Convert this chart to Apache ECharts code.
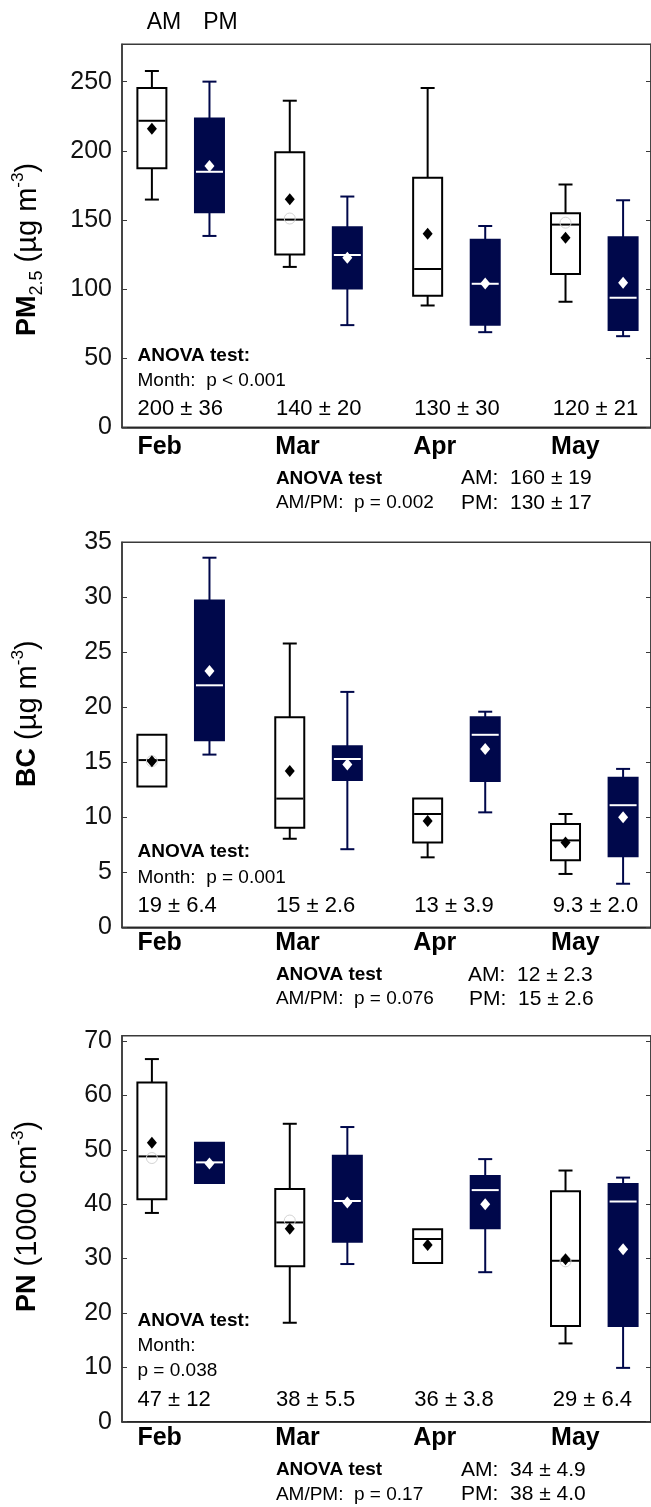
<!DOCTYPE html>
<html>
<head>
<meta charset="utf-8">
<title>PM2.5, BC and PN, AM / PM by month</title>
<script src="https://cdn.jsdelivr.net/npm/echarts@6/dist/echarts.min.js"></script>
<style>
  html, body { margin: 0; padding: 0; background: #fff; }
  #chart { width: 651px; height: 1507px; }
</style>
</head>
<body>
<div id="chart"></div>
<script>
// months on the x axis
var months = ["Feb", "Mar", "Apr", "May"];

// box values: [lower whisker, Q1, median, Q3, upper whisker]
var pm25AM = [[164.7, 187.4, 221.7, 245.4, 257.7], [116, 124.9, 150.2, 199, 236.2], [88.1, 95.1, 114.5, 180.4, 245.4], [90.8, 110.9, 146.6, 154.8, 175.6]];
var pm25PM = [[138.4, 155.5, 184.8, 223.4, 250], [73.9, 100.4, 124.6, 144.6, 166.9], [68.8, 74.1, 103.8, 135.7, 145.6], [65.9, 70.3, 93.7, 137.4, 164.2]];
var pm25AMMean = [216, 165, 139.9, 137];
var pm25PMMean = [189, 122.7, 104, 104.6];
var pm25AMCircle = [null, 151, null, 148];

var bcAM = [[12.8, 12.8, 15.2, 17.5, 17.5], [8.05, 9.05, 11.7, 19.1, 25.8], [6.36, 7.7, 10.3, 11.7, 11.7], [4.85, 6.1, 7.9, 9.4, 10.3]];
var bcPM = [[15.7, 17.0, 22.0, 29.7, 33.6], [7.1, 13.4, 15.3, 16.45, 21.4], [10.45, 13.3, 17.5, 19.1, 19.6], [3.96, 6.45, 11.1, 13.6, 14.4]];
var bcAMMean = [15.1, 14.2, 9.66, 7.7];
var bcPMMean = [23.3, 14.8, 16.2, 10.0];
var bcAMCircle = [15.1, null, null, null];

var pnAM = [[38.4, 40.9, 48.8, 62.4, 66.7], [18.2, 28.6, 36.65, 42.8, 54.8], [29.2, 29.2, 33.6, 35.4, 35.4], [14.4, 17.6, 29.6, 42.4, 46.2]];
var pnPM = [[43.9, 43.9, 47.7, 51.3, 51.3], [29.0, 33.1, 40.6, 48.9, 54.2], [27.5, 35.6, 42.6, 45.2, 48.3], [9.9, 17.6, 40.5, 43.7, 44.9]];
var pnAMMean = [51.3, 35.5, 32.5, 29.9];
var pnPMMean = [47.5, 40.3, 40.0, 31.7];
var pnAMCircle = [48.5, 37, null, 29.5];

// y axis ticks
var pm25Ticks = { max: 277, interval: 50 };
var bcTicks = { max: 35, interval: 5 };
var pnTicks = { max: 71, interval: 10 };

// month means +- sd and test results
var pm25Stats = ["200 ± 36", "140 ± 20", "130 ± 30", "120 ± 21"];
var bcStats = ["19 ± 6.4", "15 ± 2.6", "13 ± 3.9", "9.3 ± 2.0"];
var pnStats = ["47 ± 12", "38 ± 5.5", "36 ± 3.8", "29 ± 6.4"];
var pm25Month = ["Month:  p < 0.001"];
var bcMonth = ["Month:  p = 0.001"];
var pnMonth = ["Month:", "p = 0.038"];
var pm25AmPm = ["AM/PM:  p = 0.002", "AM:  160 ± 19", "PM:  130 ± 17"];
var bcAmPm = ["AM/PM:  p = 0.076", "AM:  12 ± 2.3", "PM:  15 ± 2.6"];
var pnAmPm = ["AM/PM:  p = 0.17", "AM:  34 ± 4.9", "PM:  38 ± 4.0"];

var FONT = "Liberation Sans, Arial, Helvetica, sans-serif";
var NAVY = "#00084b";
var BOX_W = 29, CAP_W = 14;
var PM_SHIFT = 0.4176;     // PM box offset from AM box, in month units
var LABEL_SHIFT = 0.1048;  // month label starts at left edge of AM box
var XMIN = -0.2168, XMAX = 3.62;

var panels = [
  { top: 44.3, height: 383, am: pm25AM, pm: pm25PM, amMean: pm25AMMean, pmMean: pm25PMMean, circ: pm25AMCircle, ticks: pm25Ticks, lblMargin: 7 },
  { top: 542.3, height: 385, am: bcAM, pm: bcPM, amMean: bcAMMean, pmMean: bcPMMean, circ: bcAMCircle, ticks: bcTicks, lblMargin: 3 },
  { top: 1035.7, height: 386, am: pnAM, pm: pnPM, amMean: pnAMMean, pmMean: pnPMMean, circ: pnAMCircle, ticks: pnTicks, lblMargin: 4 }
];

function boxRenderer(stroke, fill, medColor, meanColor) {
  return function (params, api) {
    var x = api.value(0);
    var lo = api.coord([x, api.value(1)]);
    var q1 = api.coord([x, api.value(2)]);
    var md = api.coord([x, api.value(3)]);
    var q3 = api.coord([x, api.value(4)]);
    var hi = api.coord([x, api.value(5)]);
    var mn = api.coord([x, api.value(6)]);
    var cv = api.value(7);
    var cx = lo[0], hw = BOX_W / 2, cw = CAP_W / 2;
    var lineStyle = { stroke: stroke, lineWidth: 2 };
    var kids = [];
    if (q3[1] - hi[1] > 0.5) {
      kids.push({ type: "line", shape: { x1: cx, y1: q3[1], x2: cx, y2: hi[1] }, style: lineStyle });
      kids.push({ type: "line", shape: { x1: cx - cw, y1: hi[1], x2: cx + cw, y2: hi[1] }, style: lineStyle });
    }
    if (lo[1] - q1[1] > 0.5) {
      kids.push({ type: "line", shape: { x1: cx, y1: q1[1], x2: cx, y2: lo[1] }, style: lineStyle });
      kids.push({ type: "line", shape: { x1: cx - cw, y1: lo[1], x2: cx + cw, y2: lo[1] }, style: lineStyle });
    }
    kids.push({ type: "rect", shape: { x: cx - hw, y: q3[1], width: BOX_W, height: q1[1] - q3[1] },
      style: { fill: fill, stroke: stroke, lineWidth: 2 } });
    kids.push({ type: "line", shape: { x1: cx - hw + 1, y1: md[1], x2: cx + hw - 1, y2: md[1] },
      style: { stroke: medColor, lineWidth: 2 } });
    if (isFinite(cv)) {
      var cp = api.coord([x, cv]);
      kids.push({ type: "circle", shape: { cx: cx, cy: cp[1], r: 5.5 },
        style: { fill: null, stroke: "#d4d4d4", lineWidth: 1 } });
    }
    kids.push({ type: "polygon", shape: { points: [[cx, mn[1] - 6], [cx + 5, mn[1]], [cx, mn[1] + 6], [cx - 5, mn[1]]] },
      style: { fill: meanColor } });
    return { type: "group", children: kids };
  };
}

var grid = [], xAxis = [], yAxis = [], series = [];
panels.forEach(function (p, k) {
  grid.push({ left: 122, top: p.top, width: 531, height: p.height, show: true,
    borderColor: "#3a3a3a", borderWidth: 1.5, backgroundColor: "transparent" });
  xAxis.push({
    type: "value", gridIndex: k, min: XMIN, max: XMAX,
    axisLine: { show: true, onZero: false, lineStyle: { color: "#222", width: 1.5 } },
    axisTick: { show: false }, splitLine: { show: false },
    axisLabel: {
      customValues: months.map(function (m, i) { return i - LABEL_SHIFT; }),
      formatter: function (v) { return months[Math.round(v + LABEL_SHIFT)]; },
      align: "left", margin: p.lblMargin,
      fontFamily: FONT, fontSize: 25, fontWeight: "bold", color: "#000"
    }
  });
  var yBase = {
    type: "value", gridIndex: k, min: 0, max: p.ticks.max, interval: p.ticks.interval,
    splitLine: { show: false },
    axisLine: { show: true, onZero: false, lineStyle: { color: "#3a3a3a", width: 1.5 } },
    axisTick: { show: true, inside: true, length: 5, lineStyle: { color: "#3a3a3a", width: 1 } }
  };
  yAxis.push(Object.assign({}, yBase, {
    position: "left",
    axisLabel: { showMaxLabel: p.ticks.max % p.ticks.interval === 0, margin: 10,
      fontFamily: FONT, fontSize: 25, color: "#111" }
  }));
  yAxis.push(Object.assign({}, yBase, { position: "right", axisLabel: { show: false } }));
  var amData = p.am.map(function (b, i) {
    return [i].concat(b, [p.amMean[i], p.circ[i] == null ? NaN : p.circ[i]]);
  });
  var pmData = p.pm.map(function (b, i) {
    return [i + PM_SHIFT].concat(b, [p.pmMean[i], NaN]);
  });
  series.push({ type: "custom", name: "AM", xAxisIndex: k, yAxisIndex: 2 * k, data: amData,
    encode: { x: 0, y: [1, 5] }, renderItem: boxRenderer("#000", "#fff", "#000", "#000"), silent: true });
  series.push({ type: "custom", name: "PM", xAxisIndex: k, yAxisIndex: 2 * k, data: pmData,
    encode: { x: 0, y: [1, 5] }, renderItem: boxRenderer(NAVY, NAVY, "#fff", "#fff"), silent: true });
});

// text helpers
function txt(x, y, s, size, bold, align) {
  return { type: "text", x: x, y: y, silent: true,
    style: { text: s, fontFamily: FONT, fontSize: size, fontWeight: bold ? "bold" : "normal",
      fill: "#000", align: align || "left", verticalAlign: "middle" } };
}
function yTitle(x, y, text) {
  return { type: "text", x: x, y: y, rotation: Math.PI / 2, silent: true,
    style: { text: text, align: "left", verticalAlign: "middle", fill: "#000", fontFamily: FONT,
      rich: {
        b: { fontFamily: FONT, fontSize: 27, fontWeight: "bold", lineHeight: 36, verticalAlign: "middle" },
        n: { fontFamily: FONT, fontSize: 29, lineHeight: 36, verticalAlign: "middle" },
        sub: { fontFamily: FONT, fontSize: 18, lineHeight: 18, verticalAlign: "bottom" },
        sup: { fontFamily: FONT, fontSize: 17, lineHeight: 17, verticalAlign: "top" }
      } } };
}

var colX = months.map(function (m, i) { return 137.5 + 138.4 * i; });
var graphics = [
  txt(164, 23, "AM", 23, false, "center"),
  txt(220.5, 23, "PM", 23, false, "center"),
  yTitle(28, 336, "{b|PM}{sub|2.5}{n| (µg m}{sup|-3}{n|)}"),
  yTitle(28, 787, "{b|BC}{n| (µg m}{sup|-3}{n|)}"),
  yTitle(28, 1312, "{b|PN}{n| (1000 cm}{sup|-3}{n|)}")
];
var textRows = [
  { anova: 356, month: [380.7], stats: 408.7, texts: pm25Stats, monthTxt: pm25Month, low: [478.7, 503], amPm: pm25AmPm, amX: 461, pmX: 461 },
  { anova: 851.7, month: [877.3], stats: 905.7, texts: bcStats, monthTxt: bcMonth, low: [975, 999], amPm: bcAmPm, amX: 468, pmX: 469 },
  { anova: 1320.7, month: [1346, 1370.7], stats: 1400, texts: pnStats, monthTxt: pnMonth, low: [1470, 1494.3], amPm: pnAmPm, amX: 461, pmX: 461 }
];
textRows.forEach(function (r) {
  graphics.push(txt(colX[0], r.anova, "ANOVA test:", 19, true));
  r.monthTxt.forEach(function (s, j) { graphics.push(txt(colX[0], r.month[j], s, 19, false)); });
  r.texts.forEach(function (s, i) { graphics.push(txt(colX[i], r.stats, s, 22, false)); });
  graphics.push(txt(colX[1], r.low[0], "ANOVA test", 19, true));
  graphics.push(txt(colX[1], r.low[1], r.amPm[0], 19, false));
  graphics.push(txt(r.amX, r.low[0], r.amPm[1], 21, false));
  graphics.push(txt(r.pmX, r.low[1], r.amPm[2], 21, false));
});

var chart = echarts.init(document.getElementById("chart"), null, { renderer: "canvas" });
chart.setOption({
  animation: false,
  backgroundColor: "#fff",
  textStyle: { fontFamily: FONT },
  grid: grid,
  xAxis: xAxis,
  yAxis: yAxis,
  series: series,
  graphic: graphics
});
</script>
</body>
</html>
